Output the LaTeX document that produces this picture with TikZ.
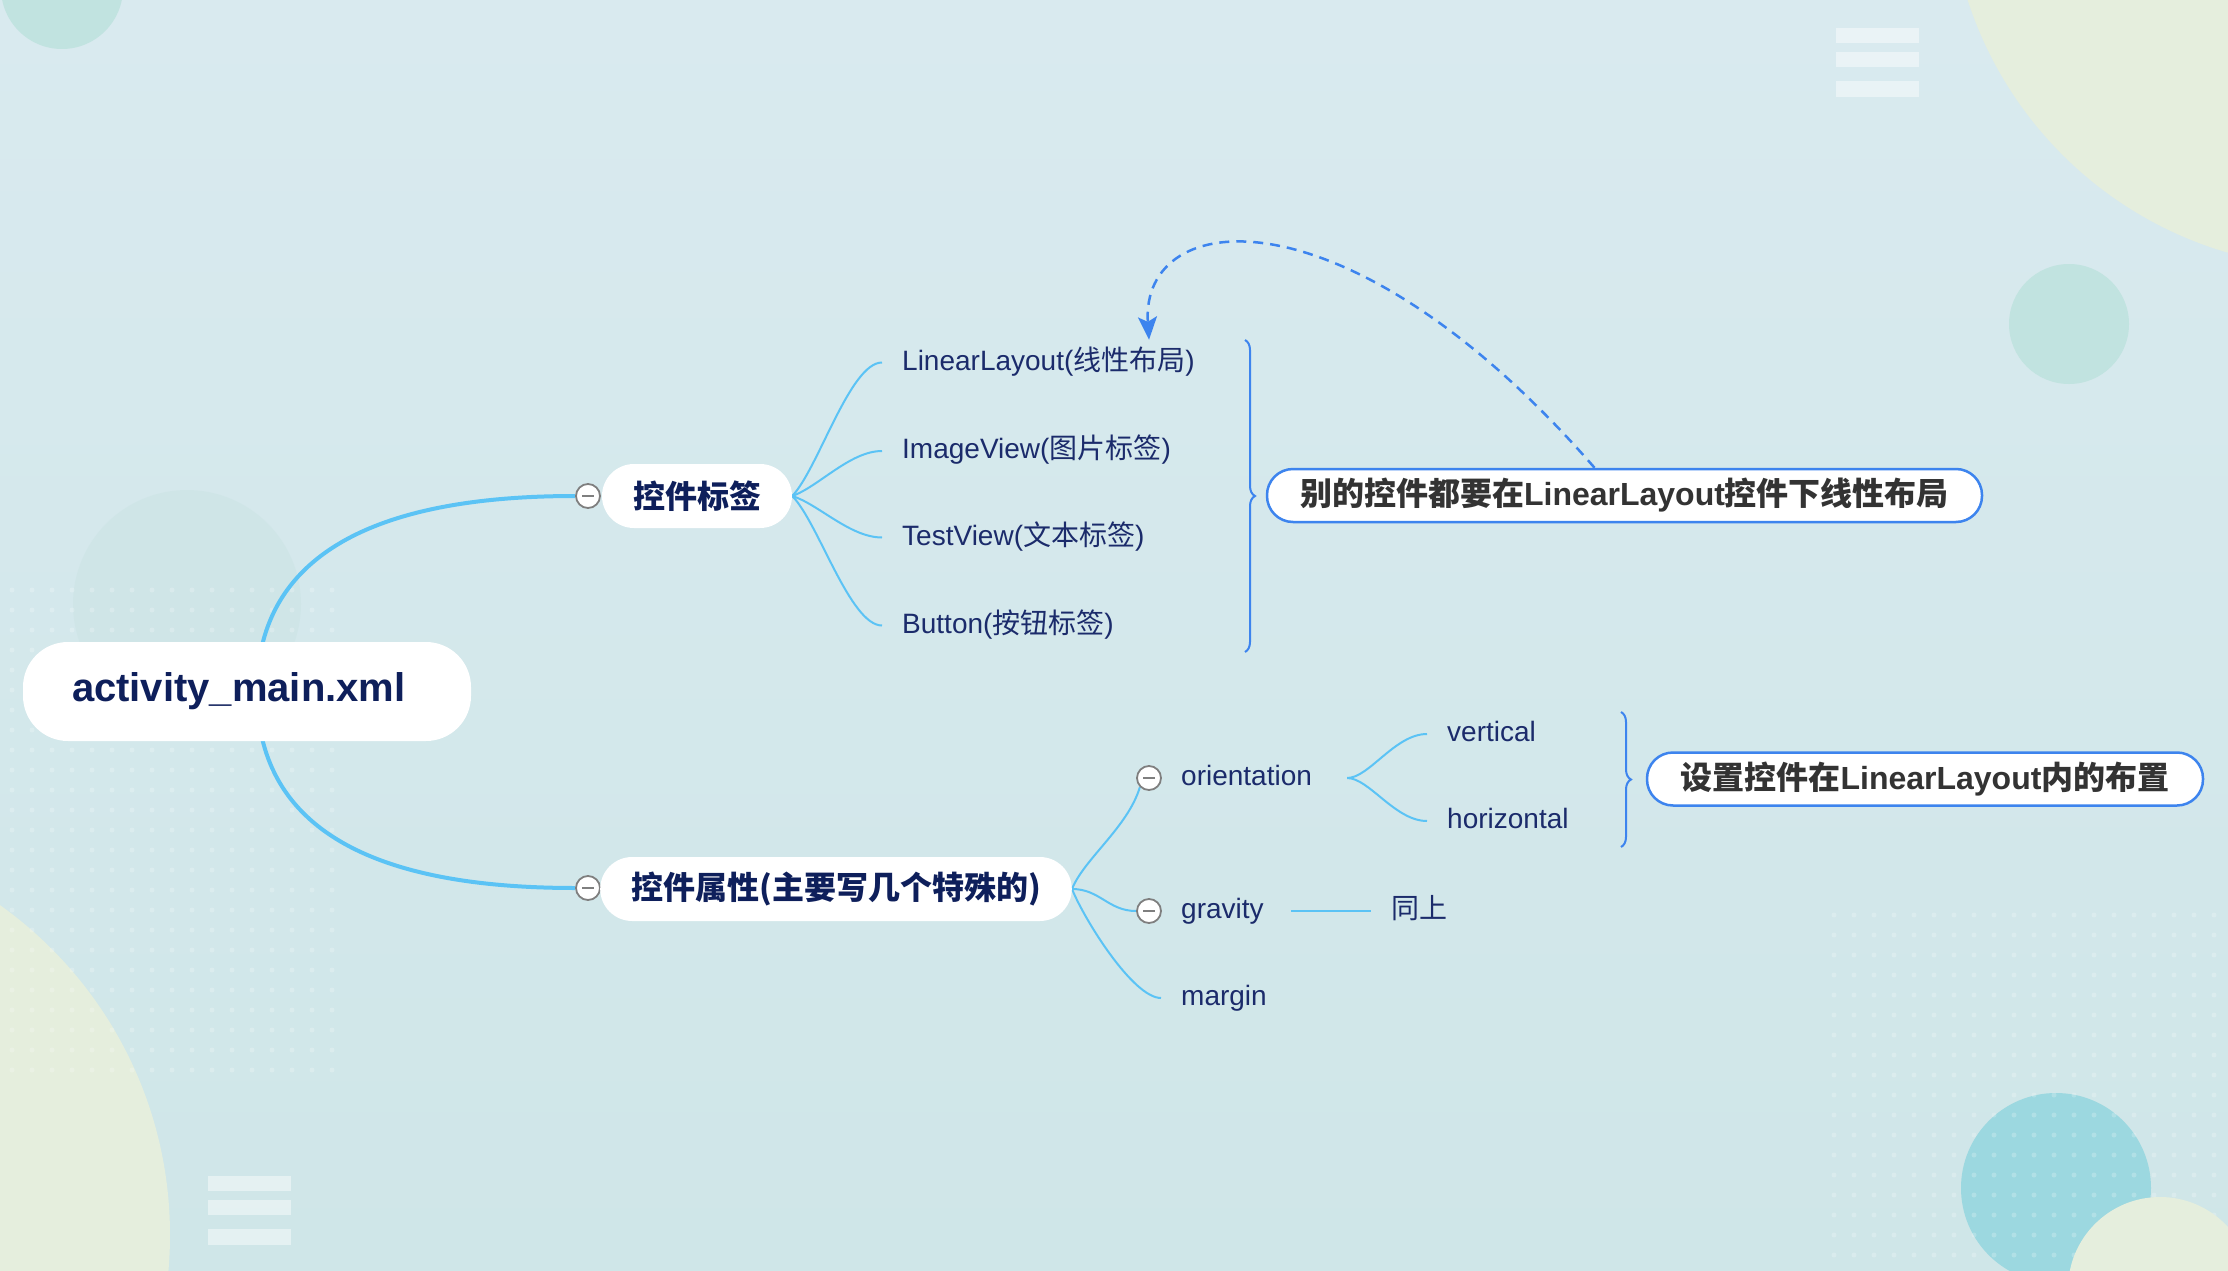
\documentclass[tikz,border=0pt]{standalone}
\usepackage{fontspec}
\setmainfont{Liberation Sans}
\newfontfamily\cjk{Noto Sans CJK SC}
\usetikzlibrary{arrows.meta,decorations.pathreplacing,calc}
\pgfdeclarelayer{deco}
\pgfdeclarelayer{links}
\pgfsetlayers{deco,links,main}
\newcommand\zh[1]{{\cjk #1}}
\definecolor{bgtop}{HTML}{D9EAEF}
\definecolor{bgbot}{HTML}{CFE6E8}
\definecolor{creamc}{HTML}{E5EEDD}
\definecolor{teallight}{HTML}{C1E3E0}
\definecolor{tealdot}{HTML}{9CD8E0}
\definecolor{faintc}{HTML}{C9E3E3}
\definecolor{linkblue}{HTML}{5BC3F5}
\definecolor{accentblue}{HTML}{3D84EE}
\definecolor{mmnavy}{HTML}{1B2B6B}
\definecolor{mmnavydark}{HTML}{0E1F5B}
\definecolor{foldgray}{HTML}{7F7F7F}
\definecolor{inkgray}{HTML}{333333}
\begin{document}
\begin{tikzpicture}[x=1pt,y=-1pt,
  rootbox/.style={fill=white, rounded corners=45pt, minimum height=99pt, text width=350pt, align=left, inner xsep=49pt, inner ysep=0pt, font=\bfseries\fontsize{40}{48}\selectfont, text=mmnavydark},
  branch/.style={fill=white, rounded corners=32pt, minimum height=64pt, inner xsep=31pt, inner ysep=0pt, font=\bfseries\fontsize{32}{38}\selectfont, text=mmnavydark},
  leaf/.style={anchor=west, inner xsep=20pt, inner ysep=2pt, text height=22pt, text depth=7pt, text=mmnavy, font=\fontsize{28}{34}\selectfont},
  fold/.style={circle, draw=foldgray, line width=1.8pt, fill=white, minimum size=24pt, inner sep=0pt,
    path picture={\draw[foldgray, line width=1.8pt] ([xshift=-6pt]path picture bounding box.center) -- ([xshift=6pt]path picture bounding box.center);}},
  callout/.style={draw=accentblue, line width=2.5pt, fill=white, rounded corners=26pt, minimum height=53pt, inner ysep=0pt, font=\bfseries\fontsize{32}{38}\selectfont, text=inkgray},
  mainlink/.style={draw=linkblue, line width=4pt},
  sublink/.style={draw=linkblue, line width=2pt},
  bracestyle/.style={draw=accentblue, line width=2pt, decorate, decoration={brace, amplitude=10pt}},
  dashlink/.style={draw=accentblue, line width=2.5pt, dash pattern=on 10pt off 7pt, -{Stealth[length=23pt,width=19pt,inset=5pt]}},
  hamb/.style={fill=white, opacity=0.45},
  dotfill/.style={fill=white, opacity=0.22}
]
\useasboundingbox (0,0) rectangle (2228,1271);
\begin{pgfonlayer}{deco}
  \shade[top color=bgtop, bottom color=bgbot] (0,0) rectangle (2228,1271);
  \begin{scope}
    \clip (0,0) rectangle (2228,1271);
    \fill[faintc, opacity=0.45] (187,604) circle[radius=114pt];
    \fill[teallight] (62,-12) circle[radius=61pt];
    \fill[creamc] (2336,-119) circle[radius=387pt];
    \fill[teallight] (2069,324) circle[radius=60pt];
    \fill[creamc] (-235,1235) circle[radius=405pt];
    \fill[tealdot] (2056,1188) circle[radius=95pt];
    \foreach \x in {12,32,...,332} \foreach \y in {590,610,...,1070} \fill[dotfill] (\x,\y) circle[radius=2.5pt];
    \foreach \x in {1834,1854,...,2228} \foreach \y in {915,935,...,1271} \fill[dotfill] (\x,\y) circle[radius=2.5pt];
    \fill[creamc] (2160,1289) circle[radius=92pt];
    \fill[hamb] (1836,28) rectangle (1919,43);
    \fill[hamb] (1836,52) rectangle (1919,67);
    \fill[hamb] (1836,81) rectangle (1919,97);
    \fill[hamb] (208,1176) rectangle (291,1191);
    \fill[hamb] (208,1200) rectangle (291,1215);
    \fill[hamb] (208,1229) rectangle (291,1245);
  \end{scope}
\end{pgfonlayer}

\node[rootbox] (root) at (247,691.5) {activity\_main.xml};
\node[fold] (f1) at (588,496) {};
\node[branch] (k1) at (697,496) {\zh{控件标签}};
\node[fold] (f2) at (588,888) {};
\node[branch] (k2) at (836,889) {\zh{控件属性(主要写几个特殊的)}};

\node[leaf] (ll) at (882,362.5) {LinearLayout(\zh{线性布局})};
\node[leaf] (iv) at (882,451) {ImageView(\zh{图片标签})};
\node[leaf] (tv) at (882,537.5) {TestView(\zh{文本标签})};
\node[leaf] (bt) at (882,625.5) {Button(\zh{按钮标签})};

\node[fold] (fo) at (1149,778) {};
\node[leaf] (ori) at (1161,778) {orientation};
\node[fold] (fg) at (1149,911) {};
\node[leaf] (gra) at (1161,911) {gravity};
\node[leaf] (mar) at (1161,998) {margin};
\node[leaf] (ver) at (1427,734) {vertical};
\node[leaf] (hor) at (1427,821) {horizontal};
\node[leaf] (same) at (1371,911) {\zh{同上}};

\node[callout, minimum width=715pt] (call1) at (1624.5,495.5) {\zh{别的控件都要在}LinearLayout\zh{控件下线性布局}};
\node[callout, minimum width=556pt] (call2) at (1925,779) {\zh{设置控件在}LinearLayout\zh{内的布置}};

\coordinate (b1a) at (1245,340);
\coordinate (b1b) at (1245,652);
\coordinate (b2a) at (1621,712);
\coordinate (b2b) at (1621,847);

\begin{pgfonlayer}{links}
  \draw[mainlink] ([xshift=10pt]root.center) .. controls +(0,-129) and +(-213,0) .. (f1.west);
  \draw[mainlink] ([xshift=10pt]root.center) .. controls +(0,131) and +(-213,0) .. (f2.west);
  \draw[sublink] (k1.east) .. controls +(26,-27) and +(-32,0) .. (ll.west);
  \draw[sublink] (k1.east) .. controls +(26,-9) and +(-32,0) .. (iv.west);
  \draw[sublink] (k1.east) .. controls +(26,8) and +(-32,0) .. (tv.west);
  \draw[sublink] (k1.east) .. controls +(26,26) and +(-32,0) .. (bt.west);
  \draw[sublink] (k2.east) .. controls +(12,-30) and +(-12,40) .. (fo.south west);
  \draw[sublink] (k2.east) .. controls +(28,0) and +(-28,0) .. (fg.west);
  \draw[sublink] (k2.east) .. controls +(12,30) and +(-28,0) .. (mar.west);
  \draw[sublink] ([xshift=15pt]ori.east) .. controls +(22,0) and +(-32,0) .. (ver.west);
  \draw[sublink] ([xshift=15pt]ori.east) .. controls +(22,0) and +(-32,0) .. (hor.west);
  \draw[sublink] ([xshift=7pt]gra.east) -- (same.west);
  \draw[bracestyle] (b1a) -- (b1b);
  \draw[bracestyle] (b2a) -- (b2b);
  \draw[dashlink] ([xshift=-30pt]call1.north) .. controls +(-245,-282) and +(-9,-135) .. ($(ll.north west)+(267,-6)$);
\end{pgfonlayer}
\end{tikzpicture}
\end{document}
